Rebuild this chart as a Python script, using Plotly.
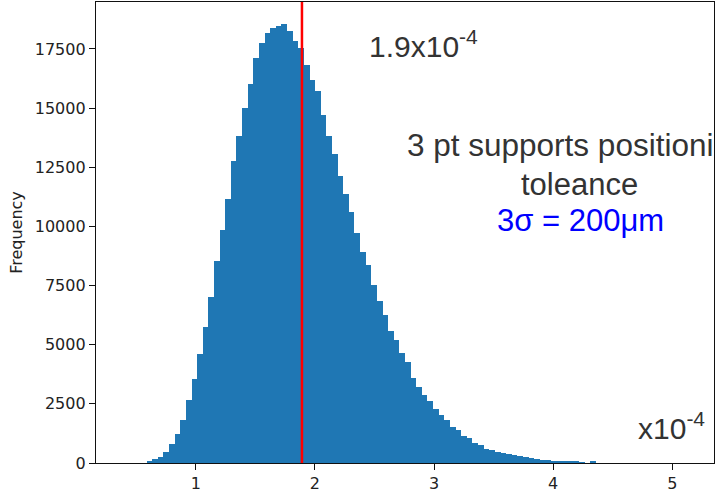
import plotly.graph_objects as go

# Histogram data (counts per bin)
bin_start = 0.398
bin_width = 0.04716
counts = [
    0, 0, 0, 0, 55, 155, 266, 477, 788, 1210,
    1813, 2644, 3530, 4597, 5749, 7014, 8549, 9857, 11164, 12750,
    13804, 14985, 16027, 17136, 17756, 18191, 18402, 18460, 18558, 18250,
    17828, 17558, 16816, 16183, 15732, 14707, 13821, 13062, 12117, 11375,
    10599, 9743, 8912, 8380, 7537, 6845, 6272, 5597, 5217, 4652,
    4272, 3598, 3218, 2881, 2640, 2270, 2020, 1800, 1530, 1390,
    1150, 1050, 830, 740, 590, 570, 480, 420, 380, 340,
    300, 240, 210, 160, 120, 110, 80, 70, 70, 55,
    45, 40, 0, 50, 0, 0, 0, 0, 0, 0,
    0, 0, 0, 0, 0, 0, 0, 0, 0, 0,
]
mean_value = 1.891
x_range = [0.162, 5.35]
y_ticks = [0, 2500, 5000, 7500, 10000, 12500, 15000, 17500]
x_ticks = [1, 2, 3, 4, 5]

W, H = 719, 491
L, R, T, B = 96, 5, 2, 28
pw, ph = W - L - R, H - T - B


def px(x):
    return (x - L) / pw


def py(y):
    return (H - B - y) / ph


fig = go.Figure()
fig.add_trace(go.Bar(
    x0=bin_start + bin_width / 2, dx=bin_width, y=counts, width=bin_width,
    marker=dict(color="#1f77b4", line=dict(width=0)),
    showlegend=False, hoverinfo="skip",
))
fig.add_shape(type="line", xref="x", yref="paper", x0=mean_value, x1=mean_value,
              y0=0, y1=1, line=dict(color="#ff0000", width=2.5))

axis_common = dict(showline=True, linecolor="#111", linewidth=1.3, mirror=True,
                   ticks="outside", ticklen=6, tickwidth=1.2, tickcolor="#111",
                   showgrid=False, zeroline=False, automargin=False,
                   tickfont=dict(family="DejaVu Sans", size=16, color="#222"))

fig.update_layout(
    width=W, height=H,
    margin=dict(l=L, r=R, t=T, b=B, autoexpand=False),
    paper_bgcolor="white", plot_bgcolor="white",
    bargap=0,
    xaxis=dict(range=x_range, tickvals=x_ticks, **axis_common),
    yaxis=dict(range=[0, 1.05 * max(counts)], tickvals=y_ticks, tickformat="d",
               title=dict(text="Frequency", standoff=8,
                          font=dict(family="DejaVu Sans", size=16, color="#222")),
               **axis_common),
    font=dict(family="Liberation Sans"),
)

ann_font = dict(family="Liberation Sans", size=30, color="#333333")
fig.add_annotation(xref="paper", yref="paper", x=px(367), y=py(44),
                   xanchor="left", yanchor="middle", showarrow=False,
                   text="1.9x10<sup>-4</sup>", font=ann_font)
fig.add_annotation(xref="paper", yref="paper", x=px(405), y=py(145),
                   xanchor="left", yanchor="middle", showarrow=False,
                   text="3 pt supports positioni", font=dict(ann_font, size=31.5))
fig.add_annotation(xref="paper", yref="paper", x=px(579), y=py(184),
                   xanchor="center", yanchor="middle", showarrow=False,
                   text="toleance", font=dict(ann_font, size=31))
fig.add_annotation(xref="paper", yref="paper", x=px(580), y=py(220),
                   xanchor="center", yanchor="middle", showarrow=False,
                   text="3σ = 200μm", font=dict(ann_font, size=31, color="#0000ff"))
fig.add_annotation(xref="paper", yref="paper", x=px(707), y=py(426),
                   xanchor="right", yanchor="middle", showarrow=False,
                   text="x10<sup>-4</sup>", font=ann_font)

fig.write_html("out.html")
